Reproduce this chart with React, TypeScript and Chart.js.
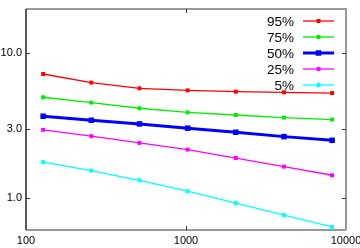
import React, { useEffect, useRef } from 'react';
import { Chart, registerables } from 'chart.js';

Chart.register(...registerables);

const sizes = [128, 256, 512, 1024, 2048, 4096, 8192];
const p95 = [7.13, 6.22, 5.68, 5.5, 5.39, 5.33, 5.27];
const p75 = [4.93, 4.53, 4.14, 3.88, 3.72, 3.57, 3.46];
const p50 = [3.65, 3.42, 3.23, 3.02, 2.83, 2.64, 2.49];
const p25 = [2.94, 2.66, 2.39, 2.15, 1.88, 1.64, 1.43];
const p5 = [1.76, 1.54, 1.32, 1.11, 0.92, 0.76, 0.63];
const seriesLabels = ['95%', '75%', '50%', '25%', '5%'];
const seriesColors = ['#ff0000', '#00ee00', '#0000ff', '#ff00ff', '#00ffff'];
const seriesWidths = [1.3, 1.3, 3, 1.3, 1.3];
const seriesRadii = [2.8, 2.8, 3.9, 2.8, 2.8];
const xTicks = [100, 1000, 10000];
const yTicks = [1, 3, 10];

const FONT = '"Liberation Sans", Arial, sans-serif';

const framePlugin = {
  id: 'frameAndLegend',
  afterDatasetsDraw(chart: any) {
    const { ctx, chartArea } = chart;
    const { left, right, top, bottom } = chartArea;
    const xs = chart.scales.x;
    const ys = chart.scales.y;
    ctx.save();
    // frame
    ctx.lineWidth = 2;
    ctx.strokeStyle = '#999999';
    ctx.beginPath();
    ctx.moveTo(left, top);
    ctx.lineTo(right, top);
    ctx.lineTo(right, bottom);
    ctx.stroke();
    ctx.lineWidth = 1.5;
    ctx.strokeStyle = '#777777';
    ctx.beginPath();
    ctx.moveTo(left, bottom);
    ctx.lineTo(right, bottom);
    ctx.stroke();
    ctx.strokeStyle = '#222222';
    ctx.beginPath();
    ctx.moveTo(left, top);
    ctx.lineTo(left, bottom);
    ctx.stroke();
    // inward ticks
    ctx.lineWidth = 1;
    ctx.strokeStyle = '#333333';
    ctx.beginPath();
    xTicks.forEach((v) => {
      const px = Math.round(xs.getPixelForValue(v)) + 0.5;
      if (px > left + 2 && px < right - 2) {
        ctx.moveTo(px, bottom);
        ctx.lineTo(px, bottom - 4);
        ctx.moveTo(px, top);
        ctx.lineTo(px, top + 4);
      }
    });
    yTicks.forEach((v) => {
      const py = Math.round(ys.getPixelForValue(v)) + 0.5;
      ctx.moveTo(left, py);
      ctx.lineTo(left + 4, py);
      ctx.moveTo(right, py);
      ctx.lineTo(right - 4, py);
    });
    ctx.stroke();
    // legend
    ctx.font = '13.5px ' + FONT;
    ctx.textAlign = 'right';
    ctx.textBaseline = 'middle';
    seriesLabels.forEach((lab, i) => {
      const y = top + 12 + i * 16;
      ctx.fillStyle = '#000000';
      ctx.fillText(lab, right - 52, y + 1);
      ctx.strokeStyle = seriesColors[i];
      ctx.lineWidth = seriesWidths[i];
      ctx.beginPath();
      ctx.moveTo(right - 43, y);
      ctx.lineTo(right - 12, y);
      ctx.stroke();
      const s = seriesRadii[i] * Math.SQRT2;
      ctx.fillStyle = seriesColors[i];
      ctx.fillRect(right - 27.5 - s / 2, y - s / 2, s, s);
    });
    ctx.restore();
  },
};

export default function App() {
  const ref = useRef<HTMLCanvasElement>(null);
  useEffect(() => {
    document.body.style.margin = '0';
    const canvas = ref.current;
    if (!canvas) return;
    const series = [p95, p75, p50, p25, p5];
    const chart = new Chart(canvas, {
      type: 'line',
      data: {
        datasets: series.map((arr, i) => ({
          label: seriesLabels[i],
          data: sizes.map((x, j) => ({ x, y: arr[j] })),
          borderColor: seriesColors[i],
          backgroundColor: seriesColors[i],
          borderWidth: seriesWidths[i],
          pointStyle: 'rect',
          pointRadius: seriesRadii[i],
          pointBorderWidth: 0,
          pointBackgroundColor: seriesColors[i],
          tension: 0,
          fill: false,
        })),
      },
      options: {
        animation: false,
        responsive: false,
        devicePixelRatio: 1,
        layout: { padding: { top: 9, right: 14, left: 0, bottom: 0 } },
        plugins: {
          legend: { display: false },
          tooltip: { enabled: false },
        },
        scales: {
          x: {
            type: 'logarithmic',
            min: 100,
            max: 10000,
            grid: { display: false, drawTicks: false },
            border: { display: false },
            afterBuildTicks: (scale: any) => {
              scale.ticks = xTicks.map((v) => ({ value: v }));
            },
            afterFit: (scale: any) => {
              scale.height = 18;
              scale.paddingLeft = 0;
              scale.paddingRight = 0;
            },
            ticks: {
              autoSkip: false,
              maxRotation: 0,
              padding: 4,
              color: '#000000',
              font: { family: FONT, size: 11 },
              callback: (v: any) => String(v),
            },
          },
          y: {
            type: 'logarithmic',
            min: 0.6,
            max: 20,
            grid: { display: false, drawTicks: false },
            border: { display: false },
            afterBuildTicks: (scale: any) => {
              scale.ticks = yTicks.map((v) => ({ value: v }));
            },
            afterFit: (scale: any) => {
              scale.width = 26;
              scale.paddingTop = 0;
              scale.paddingBottom = 0;
            },
            ticks: {
              autoSkip: false,
              padding: 4,
              color: '#000000',
              font: { family: FONT, size: 11 },
              callback: (v: any) => Number(v).toFixed(1),
            },
          },
        },
      },
      plugins: [framePlugin],
    } as any);
    return () => chart.destroy();
  }, []);
  return <canvas ref={ref} width={360} height={248} style={{ display: 'block' }} />;
}
